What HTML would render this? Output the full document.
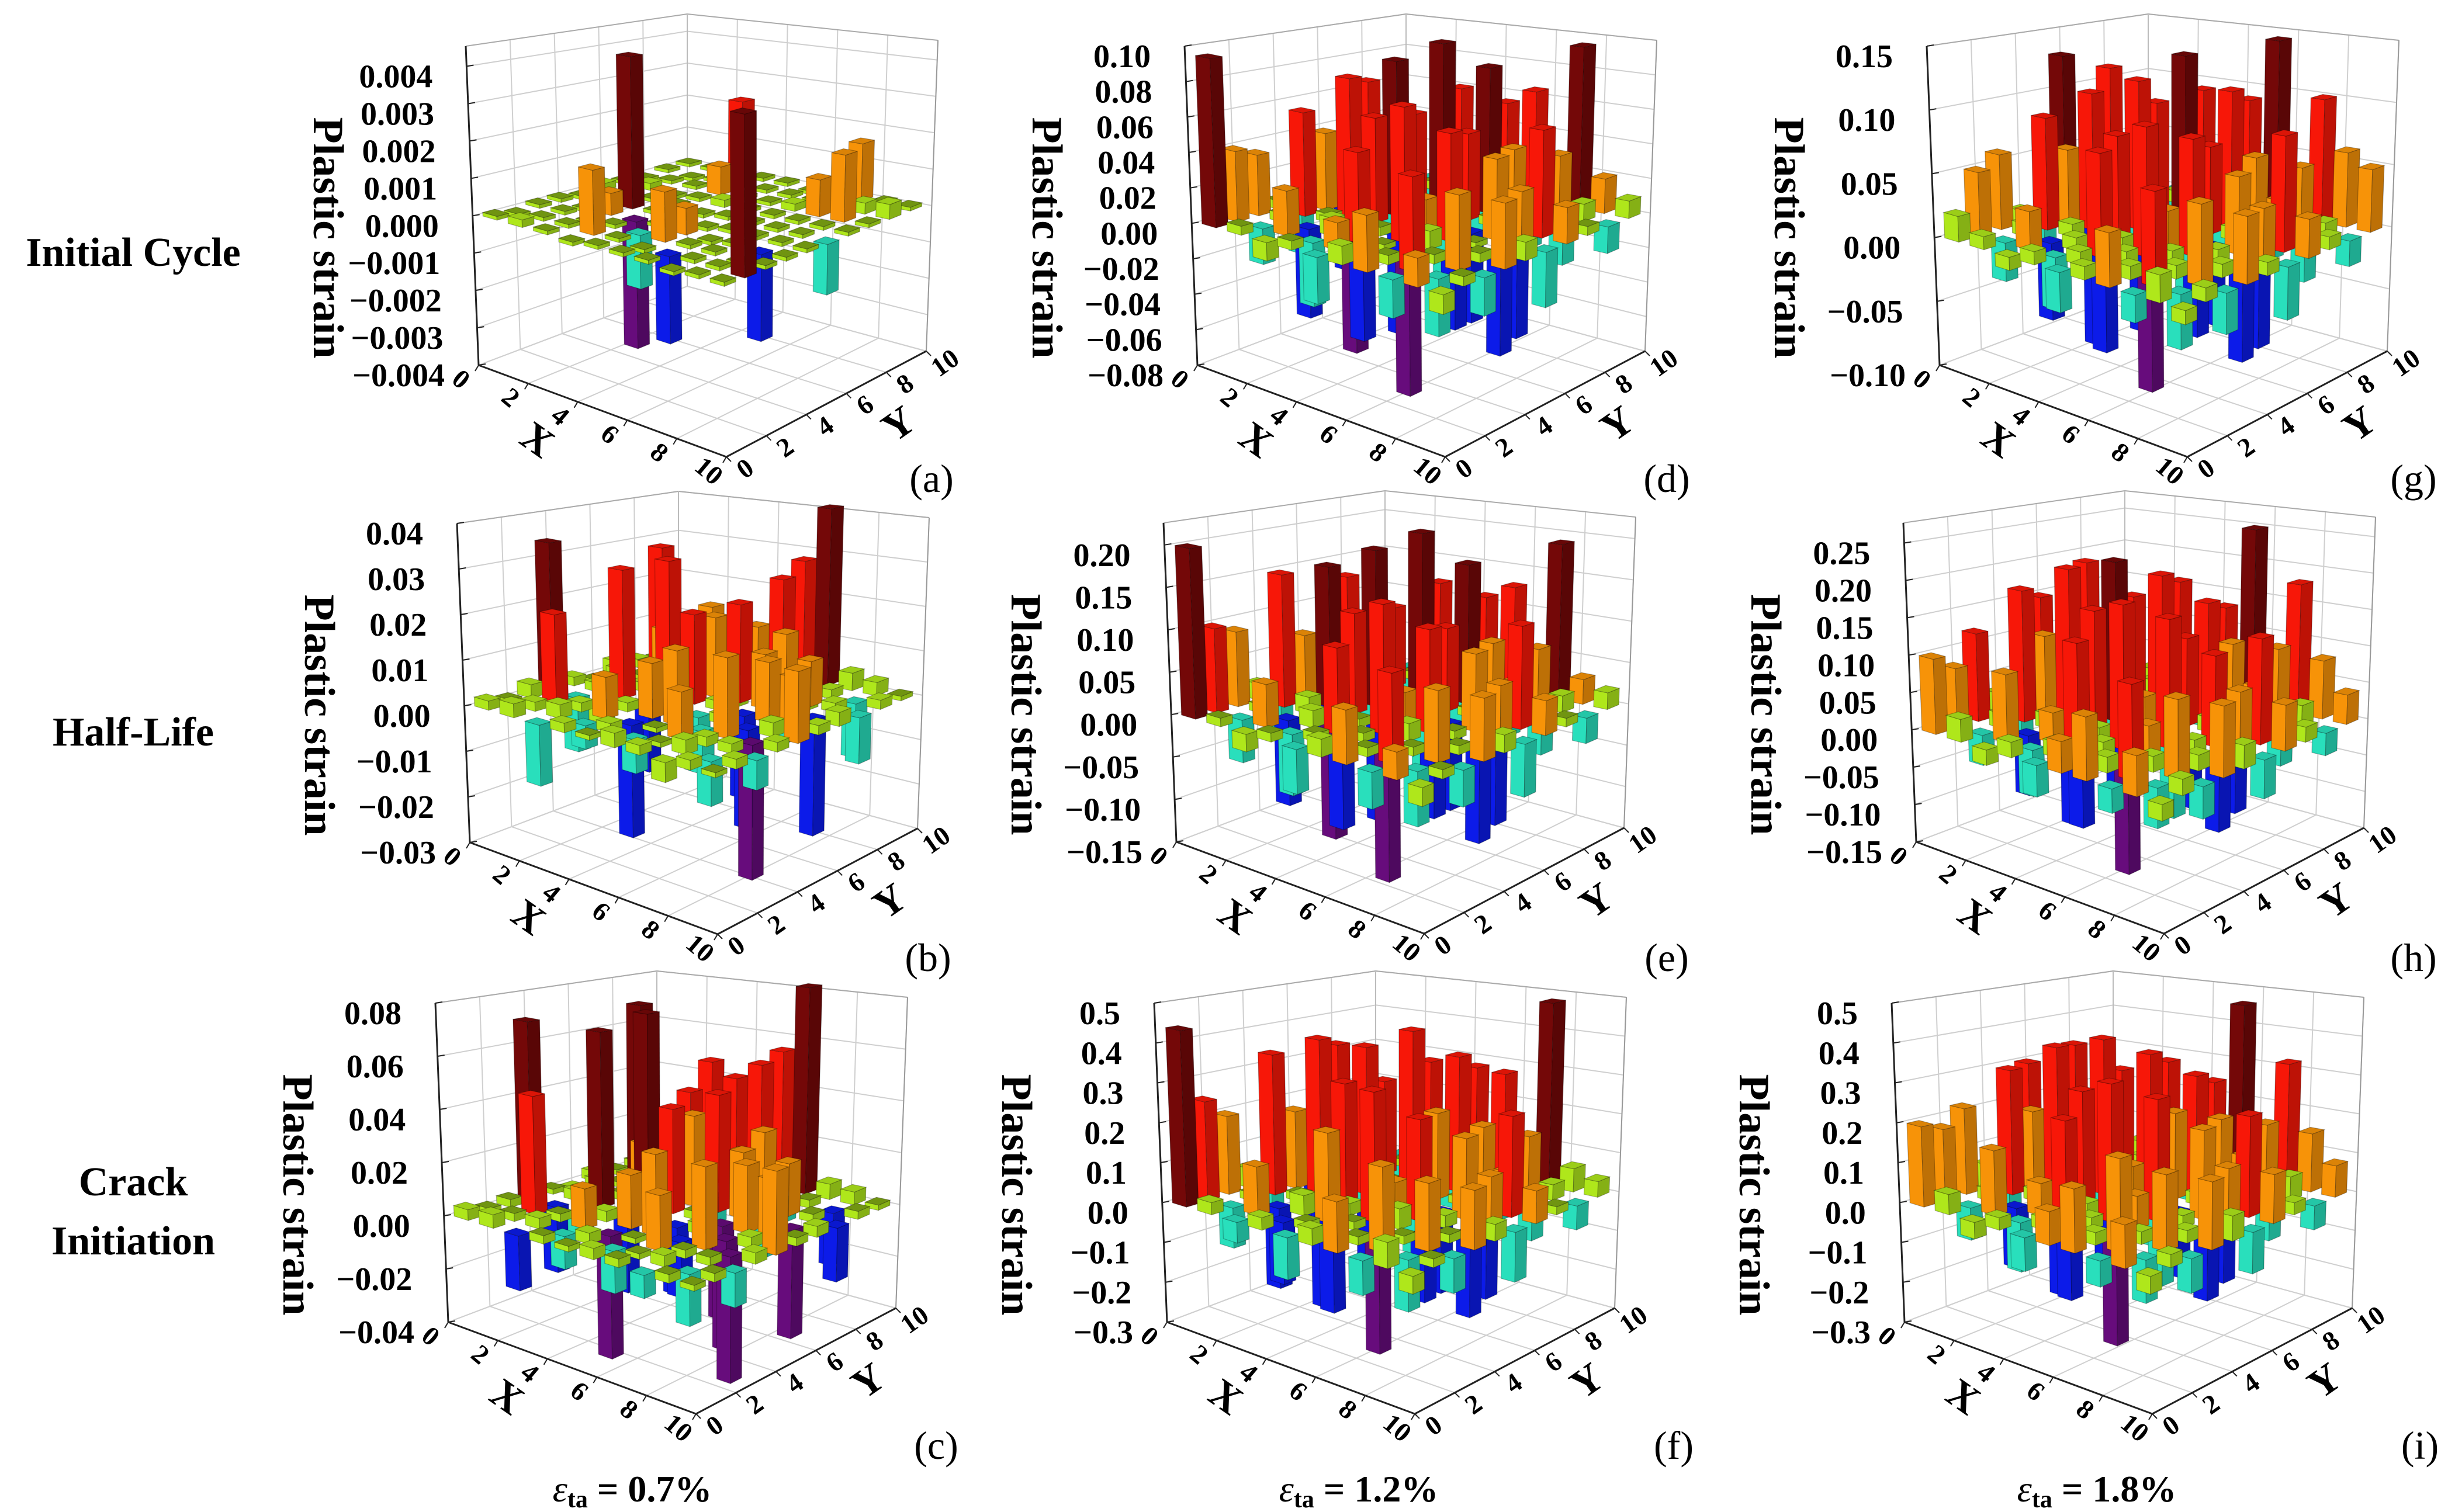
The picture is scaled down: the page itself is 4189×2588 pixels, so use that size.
<!DOCTYPE html>
<html>
<head>
<meta charset="utf-8">
<style>
html,body{margin:0;padding:0;background:#fff;}
svg{display:block;}
text{font-family:"Liberation Serif","DejaVu Serif",serif;}
</style>
</head>
<body>
<svg id="fig" xmlns="http://www.w3.org/2000/svg" width="4189" height="2588" viewBox="0 0 4189 2588">
<rect x="0" y="0" width="4189" height="2588" fill="#ffffff"/>
<text x="228" y="455" font-size="70" font-weight="bold" text-anchor="middle">Initial Cycle</text>
<text x="228" y="1276" font-size="70" font-weight="bold" text-anchor="middle">Half-Life</text>
<text x="228" y="2046" font-size="70" font-weight="bold" text-anchor="middle">Crack</text>
<text x="228" y="2147" font-size="70" font-weight="bold" text-anchor="middle">Initiation</text>
<text x="1082" y="2570" font-size="64" font-weight="bold" text-anchor="middle"><tspan font-style="italic" font-weight="normal">ε</tspan><tspan font-size="42" dy="10">ta</tspan><tspan dy="-10"> = 0.7%</tspan></text>
<text x="2325" y="2570" font-size="64" font-weight="bold" text-anchor="middle"><tspan font-style="italic" font-weight="normal">ε</tspan><tspan font-size="42" dy="10">ta</tspan><tspan dy="-10"> = 1.2%</tspan></text>
<text x="3588" y="2570" font-size="64" font-weight="bold" text-anchor="middle"><tspan font-style="italic" font-weight="normal">ε</tspan><tspan font-size="42" dy="10">ta</tspan><tspan dy="-10"> = 1.8%</tspan></text>
<g id="panels"></g>
</svg>
<script>
// ---- data: values indexed [X index * 10 + Y index] ----
const valsA = [
0.0001,-0.0001,0.0001,0.0001,-0.0001,0.0002,0.0001,-0.0001,0.0001,0.0001,
0.0002,0.0001,0.0001,-0.0001,0.0001,0.0001,0.0002,0.0001,-0.0001,0.0001,
0.0001,0.0001,-0.0001,0.0006,0.0042,0.0001,-0.0001,0.0001,0.0001,0.0002,
-0.0001,0.0017,0.0001,-0.0034,0.0001,0.0001,0.0001,0.0008,0.0025,0.0001,
0.0001,0.0001,-0.0014,0.0001,0.0001,-0.0001,0.0002,0.0001,0.0001,0.0001,
0.0001,-0.0001,0.0013,0.0007,-0.0001,0.0001,0.0001,0.0001,0.0001,-0.0001,
0.0001,-0.0022,0.0001,-0.0001,0.0001,0.0001,0.0001,0.0002,0.0001,0.0001,
-0.0001,0.0001,0.0001,0.0001,0.0001,0.0001,0.0001,0.0010,0.0001,0.0016,
0.0001,0.0001,-0.0001,-0.0022,0.0001,0.0001,0.0001,0.0018,0.0003,0.0001,
0.0001,0.0040,0.0001,0.0001,0.0001,-0.0013,0.0001,0.0001,0.0004,0.0001];
const valsB = [
0.002,0.001,0.003,0.034,0.002,-0.001,0.003,0.002,0.001,0.002,
0.003,0.002,0.020,-0.012,0.002,0.004,0.001,0.030,0.002,0.001,
-0.013,0.003,0.002,-0.004,0.029,0.002,0.013,0.003,-0.005,0.002,
0.002,-0.005,0.009,0.002,-0.015,0.031,0.015,0.018,0.012,0.003,
0.001,0.002,-0.024,0.012,0.003,0.020,0.018,-0.004,0.013,0.002,
0.003,-0.007,0.001,0.016,-0.012,0.002,0.022,0.009,0.025,0.028,
0.002,0.001,0.010,-0.009,0.002,-0.018,0.012,0.015,-0.004,0.041,
-0.004,0.003,0.002,0.017,-0.021,0.013,-0.006,0.010,0.002,0.004,
0.002,-0.009,0.002,-0.028,0.003,0.011,-0.025,0.002,-0.012,0.003,
0.001,0.002,-0.006,0.002,0.015,0.002,0.003,-0.010,0.002,0.001];
const valsC = [
0.004,0.002,0.003,0.070,0.002,-0.003,0.004,0.002,0.003,0.002,
0.005,0.003,0.045,-0.025,0.004,0.006,0.002,0.072,0.003,0.002,
-0.020,0.004,0.003,-0.008,0.068,0.003,0.020,0.005,-0.010,0.004,
0.003,-0.012,0.015,0.004,-0.030,0.075,0.030,0.040,0.050,0.004,
0.002,0.004,-0.045,0.020,0.005,0.040,0.035,-0.010,0.045,0.003,
0.004,-0.015,0.002,0.030,-0.025,0.003,0.045,0.020,0.052,0.055,
0.003,0.002,0.020,-0.020,0.004,-0.035,0.025,0.030,-0.008,0.082,
-0.008,0.004,0.003,0.030,-0.040,0.025,-0.012,0.020,0.003,0.006,
0.003,-0.018,0.003,-0.045,0.004,0.022,-0.040,0.003,-0.020,0.005,
0.002,0.003,-0.012,0.004,0.030,0.003,0.004,-0.020,0.003,0.002];
const valsD = [
0.095,0.040,0.035,0.005,-0.030,0.020,0.005,0.010,-0.010,0.015,
0.005,-0.020,0.005,0.060,0.045,-0.040,0.070,0.010,0.030,-0.015,
-0.010,0.025,-0.050,0.005,0.080,0.015,-0.020,0.050,0.005,0.010,
0.005,-0.035,0.010,-0.070,0.060,0.090,0.003,-0.025,0.065,0.005,
-0.025,0.015,0.050,0.005,-0.060,0.004,0.100,0.020,-0.020,0.055,
0.010,-0.045,0.003,0.075,0.020,-0.030,0.050,0.085,0.010,-0.030,
0.030,0.005,-0.075,0.010,0.060,-0.050,0.005,0.040,0.070,0.020,
-0.020,0.050,0.005,-0.040,0.003,0.045,-0.060,0.020,0.035,0.095,
0.015,-0.030,0.040,0.005,-0.055,0.030,0.060,-0.020,0.010,0.020,
-0.010,0.005,-0.020,0.035,0.010,-0.030,0.020,0.005,-0.015,0.010];
const valsE = [
0.20,0.10,0.09,0.02,-0.06,0.03,0.01,0.05,-0.02,0.02,
0.01,-0.05,0.01,0.16,0.08,-0.08,0.14,0.02,0.05,-0.03,
-0.02,0.05,-0.10,0.02,0.17,0.01,-0.04,0.10,0.01,0.02,
0.01,-0.07,0.02,-0.14,0.12,0.19,0.01,-0.05,0.13,0.01,
-0.05,0.01,0.10,0.01,-0.12,0.02,0.21,0.04,-0.04,0.11,
0.02,-0.09,0.01,0.15,0.04,-0.06,0.10,0.17,0.02,-0.06,
0.06,0.01,-0.15,0.02,0.12,-0.10,0.01,0.08,0.14,0.03,
-0.04,0.10,0.01,-0.08,0.01,0.09,-0.12,0.04,0.07,0.19,
0.03,-0.06,0.08,0.01,-0.11,0.06,0.12,-0.04,0.02,0.03,
-0.02,0.01,-0.04,0.07,0.02,-0.06,0.04,0.01,-0.03,0.02];
const valsF = [
0.44,0.25,0.20,0.05,-0.10,0.08,0.03,0.10,-0.05,0.04,
0.03,-0.10,0.02,0.36,0.20,-0.15,0.35,0.05,0.12,-0.06,
-0.05,0.12,-0.20,0.02,0.40,0.03,-0.08,0.25,0.02,0.05,
0.03,-0.15,0.05,-0.25,0.30,0.38,0.02,-0.10,0.30,0.03,
-0.10,0.02,0.22,0.03,-0.22,0.04,0.42,0.08,-0.08,0.28,
0.04,-0.18,0.02,0.32,0.08,-0.12,0.22,0.35,0.05,-0.12,
0.12,0.02,-0.28,0.05,0.25,-0.20,0.02,0.18,0.30,0.06,
-0.08,0.20,0.02,-0.16,0.03,0.20,-0.22,0.08,0.15,0.48,
0.06,-0.12,0.16,0.02,-0.20,0.12,0.25,-0.08,0.04,0.06,
-0.04,0.02,-0.08,0.14,0.04,-0.12,0.08,0.02,-0.06,0.04];
const valsG = [
0.02,0.05,0.06,0.01,-0.02,0.13,0.01,0.03,-0.01,0.02,
0.01,-0.03,0.01,0.09,0.06,-0.05,0.12,0.02,0.04,-0.02,
-0.01,0.03,-0.06,0.01,0.11,0.01,-0.03,0.09,0.01,0.01,
0.01,-0.04,0.01,-0.08,0.08,0.12,0.01,-0.03,0.10,0.01,
-0.03,0.01,0.08,0.01,-0.07,0.01,0.14,0.03,-0.03,0.09,
0.01,-0.06,0.01,0.10,0.03,-0.04,0.07,0.11,0.01,-0.04,
0.04,0.01,-0.09,0.01,0.09,-0.06,0.01,0.06,0.15,0.02,
-0.02,0.07,0.01,-0.05,0.01,0.06,-0.08,0.03,0.05,0.10,
0.02,-0.04,0.06,0.01,-0.07,0.04,0.09,-0.03,0.01,0.06,
-0.01,0.01,-0.03,0.05,0.01,-0.04,0.03,0.01,-0.02,0.05];
const valsH = [
0.10,0.08,0.12,0.03,-0.05,0.15,0.02,0.09,0.04,0.03,
0.03,-0.04,0.02,0.18,0.11,-0.06,0.20,0.05,0.12,0.02,
-0.02,0.09,-0.08,0.02,0.21,0.02,-0.03,0.15,0.02,0.04,
0.02,-0.06,0.04,-0.12,0.16,0.22,0.02,-0.04,0.17,0.03,
-0.04,0.02,0.14,0.02,-0.10,0.02,0.20,0.07,-0.03,0.13,
0.04,-0.08,0.02,0.19,0.06,-0.05,0.12,0.16,0.04,-0.05,
0.08,0.02,-0.14,0.04,0.17,-0.09,0.02,0.11,0.26,0.05,
-0.03,0.12,0.02,-0.07,0.02,0.12,-0.10,0.06,0.10,0.18,
0.05,-0.05,0.10,0.02,-0.09,0.08,0.14,-0.04,0.03,0.08,
-0.02,0.02,-0.04,0.09,0.03,-0.05,0.06,0.02,-0.03,0.04];
const valsI = [
0.20,0.18,0.22,0.06,-0.08,0.30,0.05,0.16,0.08,0.06,
0.05,-0.08,0.03,0.32,0.20,-0.12,0.35,0.10,0.22,0.04,
-0.04,0.16,-0.15,0.03,0.38,0.03,-0.06,0.28,0.03,0.08,
0.03,-0.12,0.08,-0.22,0.28,0.40,0.03,-0.08,0.30,0.06,
-0.08,0.03,0.25,0.03,-0.18,0.04,0.36,0.14,-0.06,0.24,
0.08,-0.15,0.03,0.34,0.12,-0.10,0.22,0.30,0.08,-0.10,
0.15,0.03,-0.26,0.08,0.30,-0.16,0.03,0.20,0.48,0.10,
-0.06,0.22,0.03,-0.12,0.03,0.22,-0.18,0.12,0.18,0.32,
0.10,-0.10,0.18,0.03,-0.16,0.14,0.25,-0.08,0.06,0.15,
-0.04,0.03,-0.08,0.16,0.06,-0.10,0.12,0.03,-0.06,0.08];

// tick values per panel
const ticksA = [-0.004,-0.003,-0.002,-0.001,0,0.001,0.002,0.003,0.004];
const ticksB = [-0.03,-0.02,-0.01,0,0.01,0.02,0.03,0.04];
const ticksC = [-0.04,-0.02,0,0.02,0.04,0.06,0.08];
const ticksD = [-0.08,-0.06,-0.04,-0.02,0,0.02,0.04,0.06,0.08,0.10];
const ticksE = [-0.15,-0.10,-0.05,0,0.05,0.10,0.15,0.20];
const ticksF = [-0.3,-0.2,-0.1,0,0.1,0.2,0.3,0.4,0.5];
const ticksG = [-0.10,-0.05,0,0.05,0.10,0.15];
const ticksH = [-0.15,-0.10,-0.05,0,0.05,0.10,0.15,0.20,0.25];
const ticksI = [-0.3,-0.2,-0.1,0,0.1,0.2,0.3,0.4,0.5];
const decimals = [3,2,2,2,2,1,2,2,1];
const boxTops = [0.00454,0.04,0.08,0.10,0.226,0.5,0.15,0.277,0.5];
const panelLetters = ["a","b","c","d","e","f","g","h","i"];
const xTickVals = [0,2,4,6,8,10];
const yTickVals = [0,2,4,6,8,10];

const NS = "http://www.w3.org/2000/svg";
const root = document.getElementById("panels");
const allVals = [valsA,valsB,valsC,valsD,valsE,valsF,valsG,valsH,valsI];
const allTicks = [ticksA,ticksB,ticksC,ticksD,ticksE,ticksF,ticksG,ticksH,ticksI];
const origins = [[819,625],[804,1442],[767,2263],[2049,625],[2013,1441],[1997,2263],[3319,625],[3279,1441],[3259,2263]];
const letterPos = [[1594,820],[1588,1640],[1602,2475],[2852,820],[2852,1640],[2864,2475],[4130,820],[4130,1640],[4141,2475]];
const GA=[0,0], GB=[424,157], GC=[766,-24], GD=[357,-135];
const GH=[546,610,532,466], GS=[-22,-4,20,0];

function mk(tag, attrs){
  const e = document.createElementNS(NS, tag);
  for (const k in attrs) e.setAttribute(k, attrs[k]);
  return e;
}
function shade(hex, f){
  const n = parseInt(hex.slice(1),16);
  let r=(n>>16)&255, g=(n>>8)&255, b=n&255;
  if (f<=1){ r*=f; g*=f; b*=f; } else { const t=f-1; r+= (255-r)*t; g+=(255-g)*t; b+=(255-b)*t; }
  return "rgb("+Math.round(r)+","+Math.round(g)+","+Math.round(b)+")";
}
function barColor(v, tmax, zmin){
  if (v>=0){
    const f=v/tmax;
    if (f<0.15) return "#b4ee1c";
    if (f<0.45) return "#ff9808";
    if (f<0.85) return "#ff1808";
    return "#780808";
  } else {
    const f=v/zmin;
    if (f<0.15) return "#b4ee1c";
    if (f<0.5) return "#2ae6c2";
    if (f<0.85) return "#0c1cf0";
    return "#6a0c80";
  }
}

for (let pi=0; pi<9; pi++){
  const vals = allVals[pi], ticks = allTicks[pi];
  const zmin = ticks[0], zmax = boxTops[pi], tmax = ticks[ticks.length-1];
  const ox = origins[pi][0], oy = origins[pi][1];
  const g = mk("g", {});
  
  
  root.appendChild(g);

  function P(X, Y, z){
    const u=X/10, v=Y/10;
    const w00=(1-u)*(1-v), w10=u*(1-v), w11=u*v, w01=(1-u)*v;
    const fx=GA[0]*w00+GB[0]*w10+GC[0]*w11+GD[0]*w01;
    const fy=GA[1]*w00+GB[1]*w10+GC[1]*w11+GD[1]*w01;
    const H=GH[0]*w00+GH[1]*w10+GH[2]*w11+GH[3]*w01;
    const S=GS[0]*w00+GS[1]*w10+GS[2]*w11+GS[3]*w01;
    const t=(z-zmin)/(zmax-zmin);
    return [ox+fx+S*t, oy+fy-H*t];
  }
  function line(p1,p2,col,w,name){
    const l = mk("line",{x1:p1[0].toFixed(1),y1:p1[1].toFixed(1),x2:p2[0].toFixed(1),y2:p2[1].toFixed(1),stroke:col,"stroke-width":w});
    
    
    g.appendChild(l);
  }
  const gc="#cfcfcf";
  for (const yv of yTickVals){ line(P(0,yv,zmin),P(0,yv,zmax),gc,2,'left-wall-gridline'); line(P(0,yv,zmin),P(10,yv,zmin),gc,2,'floor-gridline'); }
  for (const xv of xTickVals){ line(P(xv,10,zmin),P(xv,10,zmax),gc,2,'right-wall-gridline'); line(P(xv,0,zmin),P(xv,10,zmin),gc,2,'floor-gridline'); }
  for (const tz of ticks){ line(P(0,0,tz),P(0,10,tz),gc,2,'left-wall-z-gridline'); line(P(0,10,tz),P(10,10,tz),gc,2,'right-wall-z-gridline'); }
  line(P(0,0,zmax),P(0,10,zmax),"#aaaaaa",2,'wall-top-edge');
  line(P(0,10,zmax),P(10,10,zmax),"#aaaaaa",2,'wall-top-edge');
  line(P(10,10,zmin),P(10,10,zmax),"#999999",2,'right-wall-edge');
  line(P(0,10,zmin),P(0,10,zmax),"#bbbbbb",2,'back-corner-edge');

  const order=[];
  for (let i=0;i<10;i++) for (let j=0;j<10;j++) order.push([i,j]);
  order.sort((a,b)=>((a[0]-a[1])-(b[0]-b[1])) || (a[0]-b[0]));
  const hw=0.28;
  function poly(pts, fill, name){
    const p = mk("polygon",{points:pts.map(q=>q[0].toFixed(1)+","+q[1].toFixed(1)).join(" "),fill:fill,stroke:"rgba(0,0,0,0.28)","stroke-width":1.2});
    
    
    g.appendChild(p);
  }
  for (const [i,j] of order){
    const v = vals[i*10+j];
    const X=i+0.5, Y=j+0.5;
    const c = barColor(v, tmax, zmin);
    const za = Math.min(0,v), zb = Math.max(0,v);
    if (zb-za > 0){
      poly([P(X-hw,Y-hw,za),P(X+hw,Y-hw,za),P(X+hw,Y-hw,zb),P(X-hw,Y-hw,zb)], shade(c,0.97), 'bar-front-face');
      poly([P(X+hw,Y-hw,za),P(X+hw,Y+hw,za),P(X+hw,Y+hw,zb),P(X+hw,Y-hw,zb)], shade(c,0.74), 'bar-side-face');
    }
    const ref = v>=0 ? tmax : zmin;
    const tc = Math.abs(v) < 0.05*Math.abs(ref) ? shade(c,0.62) : shade(c,0.86);
    poly([P(X-hw,Y-hw,zb),P(X+hw,Y-hw,zb),P(X+hw,Y+hw,zb),P(X-hw,Y+hw,zb)], tc, 'bar-top-face');
  }

  line(P(0,0,zmin),P(10,0,zmin),"#222",3,'x-axis-line');
  line(P(10,0,zmin),P(10,10,zmin),"#222",3,'y-axis-line');
  line(P(0,0,zmin),P(0,0,zmax),"#222",3,'z-axis-line');
  for (const tz of ticks){
    const p=P(0,0,tz);
    line(p,[p[0]+12,p[1]-2],"#222",2,'z-tick-mark');
    const t = mk("text",{x:(p[0]-58).toFixed(1),y:(p[1]+36).toFixed(1),"font-size":56,"font-weight":"bold","text-anchor":"end"});
    
    
    t.textContent = (tz<0?"\u2212":"")+Math.abs(tz).toFixed(decimals[pi]);
    g.appendChild(t);
  }
  for (const xv of xTickVals){
    const p=P(xv,0,zmin);
    line(p,[p[0]-6,p[1]+10],"#222",2,'x-tick-mark');
    const cx=p[0]-30, cy=p[1]+24;
    const t = mk("text",{x:cx.toFixed(1),y:(cy+15).toFixed(1),"font-size":46,"font-weight":"bold","text-anchor":"middle",transform:"rotate(40 "+cx.toFixed(1)+" "+cy.toFixed(1)+")"});
    
    
    t.textContent = String(xv);
    g.appendChild(t);
  }
  for (const yv of yTickVals){
    const p=P(10,yv,zmin);
    line(p,[p[0]+8,p[1]+8],"#222",2,'y-tick-mark');
    const cx=p[0]+32, cy=p[1]+20;
    const t = mk("text",{x:cx.toFixed(1),y:(cy+15).toFixed(1),"font-size":46,"font-weight":"bold","text-anchor":"middle",transform:"rotate(-35 "+cx.toFixed(1)+" "+cy.toFixed(1)+")"});
    
    
    t.textContent = String(yv);
    g.appendChild(t);
  }
  const xm=P(5,0,zmin);
  const xt = mk("text",{x:(xm[0]-112).toFixed(1),y:(xm[1]+72).toFixed(1),"font-size":70,"font-weight":"bold","text-anchor":"middle",transform:"rotate(35 "+(xm[0]-112).toFixed(1)+" "+(xm[1]+50).toFixed(1)+")"});
  
  
  xt.textContent="X"; g.appendChild(xt);
  const ym=P(10,5,zmin);
  const yt = mk("text",{x:(ym[0]+124).toFixed(1),y:(ym[1]+57).toFixed(1),"font-size":70,"font-weight":"bold","text-anchor":"middle",transform:"rotate(-35 "+(ym[0]+124).toFixed(1)+" "+(ym[1]+35).toFixed(1)+")"});
  
  
  yt.textContent="Y"; g.appendChild(yt);
  const zx=ox-282, zy=oy-218;
  const zt = mk("text",{x:zx,y:zy,"font-size":74,"font-weight":"bold","text-anchor":"middle",transform:"rotate(90 "+zx+" "+zy+")"});
  
  
  zt.textContent="Plastic strain"; g.appendChild(zt);
  const lt = mk("text",{x:letterPos[pi][0],y:letterPos[pi][1]+22,"font-size":68,"text-anchor":"middle"});
  
  
  lt.textContent="("+panelLetters[pi]+")"; g.appendChild(lt);
}
</script>
</body>
</html>
